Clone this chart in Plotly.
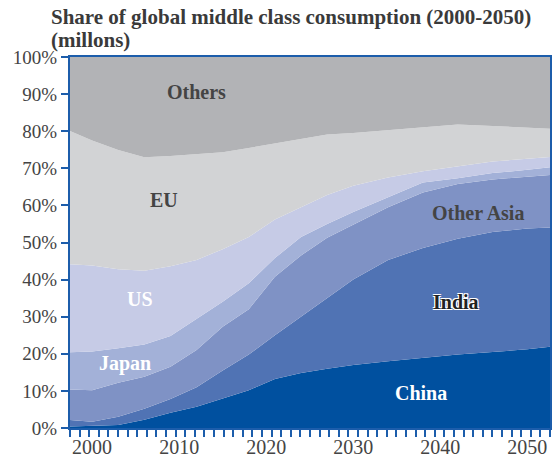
import plotly.graph_objects as go

# shares of global middle class consumption, %
years = [1997, 2000, 2003, 2006, 2009, 2012, 2015, 2018, 2021, 2024, 2027, 2030,
         2034, 2038, 2042, 2046, 2050, 2053]
china = [0.4, 0.5, 0.8, 2.2, 4.1, 5.7, 7.9, 10.2, 13.2, 14.8, 16.0, 17.0,
         18.0, 19.0, 19.8, 20.5, 21.2, 22.0]
india = [1.8, 1.2, 2.2, 3.0, 3.7, 5.3, 7.6, 9.6, 11.8, 15.2, 19.0, 23.0,
         27.3, 29.5, 31.2, 32.3, 32.6, 32.1]
other_asia = [8.2, 8.5, 9.2, 8.6, 8.7, 10.0, 11.8, 12.2, 15.8, 16.5, 16.3, 14.8,
              14.2, 15.0, 14.8, 14.2, 14.0, 14.2]
japan = [10.0, 10.4, 9.3, 8.7, 8.3, 8.5, 6.7, 7.0, 5.0, 5.0, 3.7, 3.4,
         2.8, 2.7, 1.5, 1.7, 1.8, 2.1]
us = [23.8, 23.2, 21.3, 19.9, 18.8, 15.8, 14.2, 12.5, 10.4, 8.1, 7.8, 7.1,
      5.2, 3.0, 3.3, 3.1, 3.0, 2.7]
eu = [36.3, 33.7, 32.1, 30.6, 29.7, 28.4, 26.1, 24.0, 20.5, 18.4, 16.3, 14.2,
      12.8, 12.0, 11.2, 9.6, 8.4, 7.5]
others = [19.5, 22.5, 25.1, 27.0, 26.7, 26.3, 25.7, 24.5, 23.3, 22.0, 20.9, 20.5,
          19.7, 18.8, 18.2, 18.6, 19.0, 19.4]

series = [
    ("China", china, "#00509f"),
    ("India", india, "#5073b4"),
    ("Other Asia", other_asia, "#7f92c5"),
    ("Japan", japan, "#a3b1d8"),
    ("US", us, "#c6cbe6"),
    ("EU", eu, "#d2d3d5"),
    ("Others", others, "#b2b3b6"),
]

SERIF = "Liberation Serif, DejaVu Serif, serif"
BLUE = "#1c5dab"
X0, X1 = 1997.46, 2052.6

fig = go.Figure()
for name, vals, col in series:
    fig.add_trace(go.Scatter(x=years, y=vals, name=name, mode="lines",
                             stackgroup="one", groupnorm="percent",
                             line=dict(width=0, color=col), fillcolor=col,
                             hoverinfo="name+y"))

# in-chart labels
labels = [
    ("Others", 2012.0, 90.5, "#444444"),
    ("EU", 2008.3, 61.5, "#444444"),
    ("US", 2005.5, 34.7, "white"),
    ("Japan", 2003.8, 17.5, "white"),
    ("Other Asia", 2044.3, 57.9, "#444444"),
    ("China", 2037.8, 9.4, "white"),
]
for txt, lx, ly, col in labels:
    fig.add_annotation(x=lx, y=ly, text="<b>%s</b>" % txt, showarrow=False,
                       font=dict(family=SERIF, size=20, color=col))
fig.add_annotation(x=2041.8, y=33.9, text="<b>India</b>", showarrow=False,
                   font=dict(family=SERIF, size=20, color="#222222",
                             shadow="-1px -1px 0 white, 1px -1px 0 white, "
                                    "-1px 1px 0 white, 1px 1px 0 white"))

# title, two lines placed separately
for txt, ty in [("Share of global middle class consumption (2000-2050)", 1.108),
                ("(millons)", 1.047)]:
    fig.add_annotation(xref="paper", yref="paper", x=-21 / 482, y=ty,
                       xanchor="left", yanchor="middle", align="left",
                       showarrow=False, text="<b>%s</b>" % txt,
                       font=dict(family=SERIF, size=21, color="#3a3a3a"))

fig.update_layout(
    width=553, height=461,
    margin=dict(l=70, r=1, t=57, b=33),
    paper_bgcolor="white", plot_bgcolor="white",
    showlegend=False,
)

fig.update_xaxes(range=[X0, X1], tickmode="array",
                 tickvals=[2000, 2010, 2020, 2030, 2040, 2050],
                 ticks="", showgrid=False, zeroline=False,
                 showline=True, linecolor=BLUE, linewidth=2, mirror=True,
                 tickfont=dict(family=SERIF, size=20, color="#444444"),
                 minor=dict(ticks="outside", tick0=X0, dtick=(X1 - X0) / 50,
                            ticklen=7, tickwidth=2, tickcolor=BLUE, showgrid=False))
fig.update_yaxes(range=[0, 100], tickvals=list(range(0, 101, 10)),
                 ticktext=["%d%%" % v for v in range(0, 101, 10)],
                 ticks="outside", ticklen=7, tickwidth=2, tickcolor=BLUE,
                 showgrid=False, zeroline=False,
                 showline=True, linecolor=BLUE, linewidth=2, mirror=True,
                 tickfont=dict(family=SERIF, size=19, color="#444444"))

fig.write_html("out.html", config={"displayModeBar": False},
               post_script="document.body.style.margin='0';")
